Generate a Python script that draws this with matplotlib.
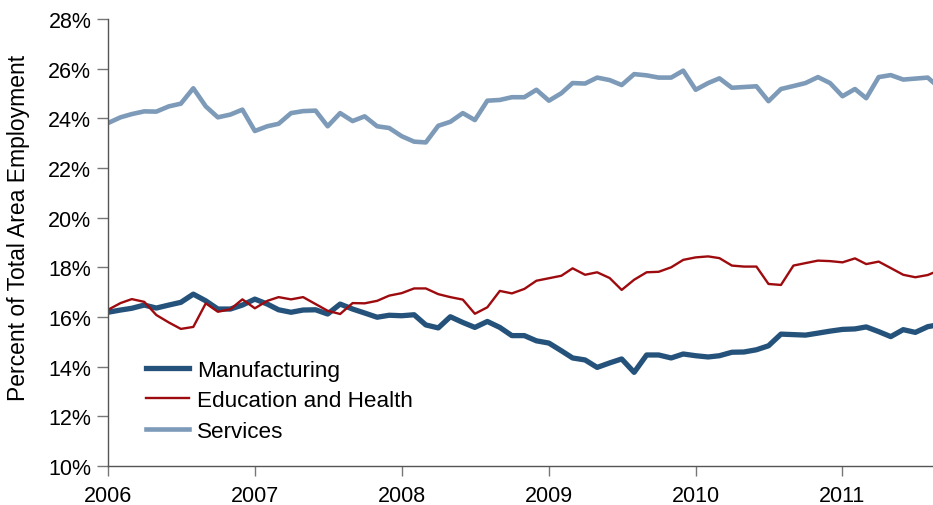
import numpy as np
import pandas as pd
import matplotlib
matplotlib.use("Agg")
import matplotlib.pyplot as plt

# monthly shares of total area employment, Jan 2006 onward (percent)
months = pd.date_range("2006-01-01", periods=69, freq="MS")

manufacturing = [
    16.19, 16.28, 16.35, 16.48, 16.36, 16.48, 16.59, 16.92, 16.65, 16.32, 16.32, 16.48,
    16.72, 16.52, 16.29, 16.19, 16.28, 16.29, 16.12, 16.52, 16.32, 16.16, 15.99, 16.07,
    16.05, 16.09, 15.68, 15.56, 16.01, 15.78, 15.58, 15.82, 15.58, 15.25, 15.25, 15.04,
    14.95, 14.64, 14.35, 14.27, 13.97, 14.15, 14.31, 13.77, 14.47, 14.47, 14.35, 14.51,
    14.44, 14.39, 14.44, 14.58, 14.59, 14.68, 14.84, 15.31, 15.29, 15.27, 15.35, 15.43,
    15.50, 15.52, 15.60, 15.41, 15.21, 15.49, 15.38, 15.61, 15.70,
]

education_health = [
    16.29, 16.56, 16.72, 16.61, 16.08, 15.78, 15.52, 15.60, 16.55, 16.21, 16.31, 16.71,
    16.35, 16.65, 16.80, 16.71, 16.80, 16.52, 16.25, 16.12, 16.56, 16.55, 16.65, 16.86,
    16.96, 17.15, 17.15, 16.92, 16.80, 16.70, 16.13, 16.39, 17.05, 16.95, 17.13, 17.46,
    17.56, 17.66, 17.96, 17.70, 17.80, 17.57, 17.09, 17.50, 17.80, 17.82, 18.00, 18.30,
    18.40, 18.44, 18.37, 18.07, 18.03, 18.03, 17.33, 17.29, 18.07, 18.17, 18.27, 18.25,
    18.20, 18.36, 18.13, 18.23, 17.97, 17.70, 17.60, 17.69, 17.90,
]

services = [
    23.81, 24.04, 24.17, 24.28, 24.27, 24.48, 24.59, 25.21, 24.48, 24.04, 24.15, 24.35,
    23.49, 23.68, 23.78, 24.21, 24.29, 24.31, 23.68, 24.21, 23.89, 24.08, 23.68, 23.61,
    23.28, 23.06, 23.03, 23.70, 23.86, 24.21, 23.93, 24.71, 24.74, 24.85, 24.85, 25.15,
    24.71, 25.01, 25.42, 25.40, 25.64, 25.54, 25.34, 25.78, 25.73, 25.64, 25.64, 25.92,
    25.15, 25.42, 25.61, 25.23, 25.26, 25.29, 24.69, 25.18, 25.30, 25.42, 25.66, 25.42,
    24.89, 25.18, 24.81, 25.66, 25.74, 25.56, 25.60, 25.64, 25.20,
]

year_ticks = pd.date_range("2006-01-01", periods=6, freq="YS")
y_ticks = np.arange(10, 29, 2)

plt.rcParams["font.family"] = ["Liberation Sans", "DejaVu Sans"]

fig = plt.figure(figsize=(9.33, 5.06), dpi=100)
ax = fig.add_axes([0.1158, 0.0771, 0.8842, 0.8834])

ax.plot(months, manufacturing, color="#24527a", lw=3.8, label="Manufacturing")
ax.plot(months, education_health, color="#9e0b0f", lw=1.7, label="Education and Health")
ax.plot(months, services, color="#7d9bb8", lw=3.3, label="Services")

ax.set_ylim(10, 28)
ax.set_xlim(months[0], pd.Timestamp("2011-08-14"))
ax.set_yticks(y_ticks)
ax.set_yticklabels([f"{v}%" for v in y_ticks])
ax.set_xticks(year_ticks)
ax.set_xticklabels([str(d.year) for d in year_ticks])

for s in ("top", "right"):
    ax.spines[s].set_visible(False)
for s in ("left", "bottom"):
    ax.spines[s].set_color("#555555")
    ax.spines[s].set_linewidth(1.0)

ax.tick_params(axis="y", length=8, width=1, color="#777777", labelsize=15.5, pad=4)
ax.tick_params(axis="x", length=7, width=1, color="#777777", labelsize=15.5, pad=7)
ax.set_ylabel("Percent of Total Area Employment", fontsize=16.5)
ax.yaxis.set_label_coords(-0.094, 0.535)

leg = ax.legend(loc="upper left", bbox_to_anchor=(0.157, 0.287),
                bbox_transform=fig.transFigure, frameon=False, fontsize=16.2,
                handlelength=1.9, handletextpad=0.36, labelspacing=0.42,
                borderpad=0, borderaxespad=0)

fig.savefig("out.png", dpi=100)
